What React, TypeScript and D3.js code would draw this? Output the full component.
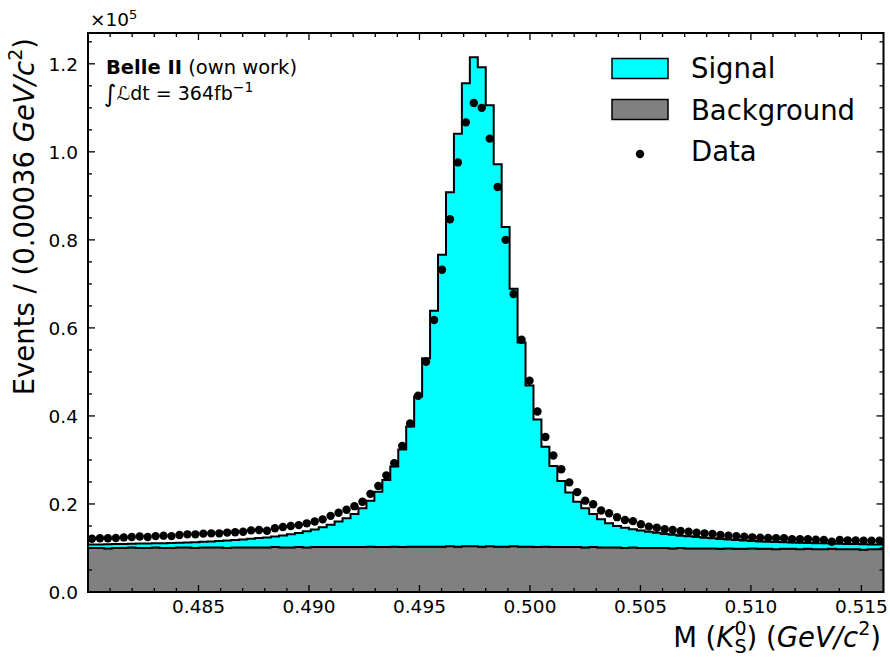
import React from 'react';
import * as d3 from 'd3';

const binStart = 0.48;
const binWidth = 0.00036;
const nBins = 100;

const background = [
  10000, 10000, 9900, 10000, 10000, 10100, 10000, 10000, 10100, 10000,
  10000, 10100, 10100, 10000, 10100, 10100, 10100, 10000, 10100, 10100,
  10100, 10100, 10100, 10200, 10100, 10100, 10200, 10100, 10200, 10200,
  10200, 10200, 10200, 10200, 10200, 10300, 10200, 10200, 10300, 10200,
  10300, 10300, 10300, 10300, 10300, 10400, 10300, 10400, 10400, 10300,
  10400, 10300, 10300, 10400, 10300, 10300, 10200, 10300, 10200, 10200,
  10200, 10200, 10100, 10200, 10100, 10100, 10100, 10000, 10100, 10000,
  10000, 10000, 10000, 9900, 10000, 9900, 9900, 9900, 9900, 9800,
  9900, 9800, 9800, 9900, 9800, 9800, 9700, 9800, 9800, 9700,
  9800, 9700, 9700, 9800, 9700, 9700, 9700, 9600, 9700, 9700,
];

const signal = [
  800, 800, 950, 900, 900, 850, 1000, 1000, 950, 1100,
  1150, 1100, 1150, 1300, 1300, 1400, 1500, 1700, 1700, 1850,
  2000, 2150, 2300, 2400, 2750, 3000, 3200, 3700, 4000, 4500,
  5100, 5800, 6550, 7500, 8800, 10450, 12600, 15250, 18200, 22200,
  27300, 34100, 42800, 53600, 66300, 80400, 93800, 105200, 111100, 108900,
  100200, 86900, 72600, 58500, 46400, 36600, 29000, 22700, 18400, 15000,
  12400, 10300, 8900, 7500, 6400, 5500, 4900, 4600, 4150, 3950,
  3700, 3450, 3200, 3100, 2800, 2750, 2600, 2450, 2300, 2250,
  2000, 2000, 1900, 1700, 1700, 1620, 1650, 1500, 1450, 1500,
  1350, 1400, 1350, 1200, 1250, 1200, 1180, 1250, 1120, 1100,
];

const dataCounts = [
  12100, 12200, 12200, 12270, 12400, 12500, 12600, 12500, 12700, 12800,
  12700, 12950, 13100, 13100, 13260, 13330, 13330, 13500, 13560, 13700,
  14000, 14100, 13900, 14470, 14770, 15000, 15200, 15600, 16000, 16500,
  17300, 18000, 18700, 19500, 20500, 22300, 24100, 26500, 29250, 33200,
  38300, 44600, 52300, 61800, 73200, 84700, 97600, 106700, 111100, 110000,
  103000, 92000, 80000, 67700, 57300, 48000, 41000, 35200, 31000, 27900,
  24900, 22700, 20750, 19950, 18500, 17900, 17000, 16360, 16100, 15400,
  14850, 14600, 14240, 14100, 13860, 13700, 13480, 13330, 13200, 12950,
  12800, 12700, 12580, 12420, 12350, 12270, 12200, 12200, 11970, 11970,
  11970, 11900, 11800, 11400, 11800, 11740, 11700, 11670, 11670, 11670,
];

const xMajorTicks = [0.485, 0.49, 0.495, 0.5, 0.505, 0.51, 0.515];
const xTickLabels = ['0.485', '0.490', '0.495', '0.500', '0.505', '0.510', '0.515'];
const yMajorTicks = [0, 20000, 40000, 60000, 80000, 100000, 120000];
const yTickLabels = ['0.0', '0.2', '0.4', '0.6', '0.8', '1.0', '1.2'];

const FONT = 'DejaVu Sans, Verdana, sans-serif';
const L = 88, R = 883.5, T = 33, B = 592;

export default function App() {
  const x = d3.scaleLinear().domain([0.48, 0.516]).range([L, R]);
  const y = d3.scaleLinear().domain([0, 127000]).range([B, T]);

  const edges = d3.range(nBins + 1).map((i) => binStart + i * binWidth);
  type P = { e: number; lo: number; hi: number };
  const bgPts: P[] = edges.map((e, i) => {
    const k = Math.min(i, nBins - 1);
    return { e, lo: 0, hi: background[k] };
  });
  const sigPts: P[] = edges.map((e, i) => {
    const k = Math.min(i, nBins - 1);
    return { e, lo: background[k], hi: background[k] + signal[k] };
  });
  const stepArea = d3
    .area<P>()
    .curve(d3.curveStepAfter)
    .x((d) => x(d.e))
    .y0((d) => y(d.lo))
    .y1((d) => y(d.hi));

  const xMinor = d3.range(481, 516).map((v) => v / 1000).filter((v) => Math.round(v * 1000) % 5 !== 0);
  const yMinor = d3.range(0, 26).map((v) => v * 5000).filter((v) => v % 20000 !== 0);

  const centers = dataCounts.map((_, i) => binStart + (i + 0.5) * binWidth);

  return (
    <svg width={890} height={659} style={{ position: 'absolute', left: 0, top: 0 }} fontFamily={FONT}>
      <rect x={0} y={0} width={890} height={659} fill="white" />
      <defs>
        <clipPath id="plotclip">
          <rect x={L} y={T} width={R - L} height={B - T} />
        </clipPath>
      </defs>
      <g clipPath="url(#plotclip)">
        <path d={stepArea(bgPts) || ''} fill="#808080" stroke="#1a1a1a" strokeWidth={1.6} />
        <path d={stepArea(sigPts) || ''} fill="#00ffff" stroke="black" strokeWidth={2} strokeLinejoin="miter" />
        {dataCounts.map((v, i) => (
          <circle key={i} cx={x(centers[i])} cy={y(v)} r={4.2} fill="black" />
        ))}
      </g>

      {/* ticks */}
      <g stroke="black" strokeWidth={1.3}>
        {xMajorTicks.map((t, i) => (
          <g key={'xm' + i}>
            <line x1={x(t)} x2={x(t)} y1={B} y2={B - 7} />
            <line x1={x(t)} x2={x(t)} y1={T} y2={T + 7} />
          </g>
        ))}
        {xMinor.map((t, i) => (
          <g key={'xn' + i}>
            <line x1={x(t)} x2={x(t)} y1={B} y2={B - 4} />
            <line x1={x(t)} x2={x(t)} y1={T} y2={T + 4} />
          </g>
        ))}
        {yMajorTicks.map((t, i) => (
          <g key={'ym' + i}>
            <line x1={L} x2={L + 7} y1={y(t)} y2={y(t)} />
            <line x1={R} x2={R - 7} y1={y(t)} y2={y(t)} />
          </g>
        ))}
        {yMinor.map((t, i) => (
          <g key={'yn' + i}>
            <line x1={L} x2={L + 4} y1={y(t)} y2={y(t)} />
            <line x1={R} x2={R - 4} y1={y(t)} y2={y(t)} />
          </g>
        ))}
      </g>
      <rect x={L} y={T} width={R - L} height={B - T} fill="none" stroke="black" strokeWidth={2} />

      {/* tick labels */}
      {xMajorTicks.map((t, i) => (
        <text key={'xl' + i} x={x(t)} y={613} fontSize={18.5} textAnchor="middle">
          {xTickLabels[i]}
        </text>
      ))}
      {yMajorTicks.map((t, i) => (
        <text key={'yl' + i} x={78} y={y(t) + 6.7} fontSize={18.5} textAnchor="end">
          {yTickLabels[i]}
        </text>
      ))}
      <text x={90} y={26} fontSize={18.5}>
        ×10<tspan dy={-7} fontSize={13}>5</tspan>
      </text>

      {/* axis labels */}
      <text x={881} y={647} fontSize={27.5} textAnchor="end">
        M (<tspan fontStyle="italic">K</tspan>
        <tspan dy={-12} fontSize={19}>0</tspan>
        <tspan dx={-12} dy={18} fontSize={19}>S</tspan>
        <tspan dy={-6}>) (</tspan>
        <tspan fontStyle="italic">GeV/c</tspan>
        <tspan dy={-12} fontSize={19}>2</tspan>
        <tspan dy={12}>)</tspan>
      </text>
      <text transform="translate(34,38) rotate(-90)" fontSize={27.5} textAnchor="end">
        Events / (0.00036 <tspan fontStyle="italic">GeV/c</tspan>
        <tspan dy={-12} fontSize={19}>2</tspan>
        <tspan dy={12}>)</tspan>
      </text>

      {/* annotation */}
      <text x={106} y={74} fontSize={19.5}>
        <tspan fontWeight="bold">Belle II</tspan> (own work)
      </text>
      <text x={104} y={100} fontSize={19}>
        <tspan fontSize={24} dy={2}>∫</tspan>
        <tspan dy={-2} fontStyle="italic">ℒ</tspan>dt = 364fb
        <tspan dy={-8} fontSize={14}>−1</tspan>
      </text>

      {/* legend */}
      <rect x={612} y={58.5} width={56} height={20} fill="#00ffff" stroke="black" strokeWidth={1.5} />
      <rect x={612} y={99.5} width={56} height={20} fill="#808080" stroke="black" strokeWidth={1.5} />
      <circle cx={640} cy={154} r={4.2} fill="black" />
      <text x={691} y={78} fontSize={27.5}>Signal</text>
      <text x={691} y={119.5} fontSize={27.5}>Background</text>
      <text x={691} y={160.5} fontSize={27.5}>Data</text>
    </svg>
  );
}
